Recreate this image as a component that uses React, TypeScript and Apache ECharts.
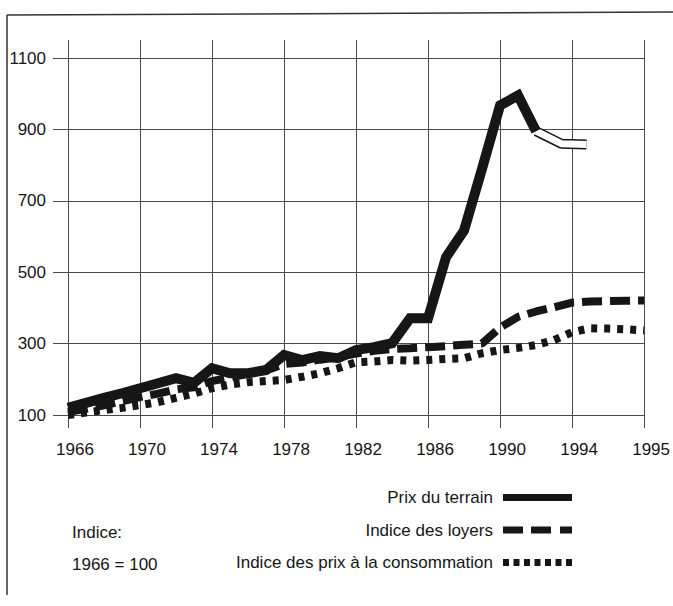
import React, { useEffect, useRef } from "react";
import * as echarts from "echarts";

// x positions (the last slot, 1998, is labelled "1995" on the original chart)
const years = [
  1966, 1967, 1968, 1969, 1970, 1971, 1972, 1973, 1974, 1975, 1976, 1977, 1978,
  1979, 1980, 1981, 1982, 1983, 1984, 1985, 1986, 1987, 1988, 1989, 1990, 1991,
  1992, 1993, 1994, 1995, 1996, 1997, 1998,
];
const xTickLabels: Record<number, string> = { 1998: "1995" };

const prixTerrain = [
  120, 134, 148, 161, 175, 189, 203, 190, 231, 217, 217, 226, 268, 254, 265,
  259, 282, 290, 301, 371, 371, 542, 617, 790, 967, 995, 895,
];
const prixTerrainEstX = [1992, 1993.4, 1994.8];
const prixTerrainEst = [895, 860, 858];

const indiceLoyers = [
  108, 117, 127, 138, 150, 160, 172, 178, 195, 205, 215, 225, 243, 247, 255,
  262, 272, 280, 285, 287, 290, 293, 297, 300, 345, 375, 390, 402, 415, 418,
  419, 420, 421,
];
const indiceConso = [
  100, 107, 114, 120, 128, 136, 148, 160, 175, 185, 192, 195, 198, 207, 217,
  231, 248, 250, 254, 252, 254, 257, 259, 273, 282, 288, 296, 310, 332, 343,
  342, 340, 337,
];

const yMin = 100;
const yMax = 1100;
const yStep = 200;

const FONT = "'Liberation Sans', Arial, sans-serif";
const INK = "#161616";
const GRID = "#4a4a4a";

const pair = (xs: number[], ys: number[]) => ys.map((v, i) => [xs[i], v]);

export default function App() {
  const ref = useRef<HTMLDivElement>(null);
  useEffect(() => {
    if (!ref.current) return;
    const chart = echarts.init(ref.current, null, { renderer: "svg" });
    chart.setOption({
      animation: false,
      backgroundColor: "#ffffff",
      grid: { left: 68, right: 26, top: 58, bottom: 191 },
      xAxis: [
        {
          type: "value",
          min: 1966,
          max: 1998,
          interval: 4,
          position: "bottom",
          axisLine: { show: false },
          axisTick: { show: true, length: 13, lineStyle: { color: GRID } },
          axisLabel: {
            fontSize: 17,
            fontFamily: FONT,
            color: INK,
            margin: 26,
            padding: [0, 0, 0, 14],
            formatter: (v: number) => xTickLabels[v] ?? String(v),
          },
          splitLine: { show: true, lineStyle: { color: GRID, width: 1 } },
        },
        {
          type: "value",
          min: 1966,
          max: 1998,
          interval: 4,
          position: "top",
          axisLine: { show: false },
          axisTick: { show: true, length: 18, lineStyle: { color: GRID } },
          axisLabel: { show: false },
          splitLine: { show: false },
        },
      ],
      yAxis: {
        type: "value",
        min: yMin,
        max: yMax,
        interval: yStep,
        axisLine: { show: false },
        axisTick: { show: true, length: 15, lineStyle: { color: GRID } },
        axisLabel: {
          fontSize: 17,
          fontFamily: FONT,
          color: INK,
          margin: 22,
          formatter: (v: number) => String(v),
        },
        splitLine: { show: true, lineStyle: { color: GRID, width: 1 } },
      },
      legend: {
        orient: "vertical",
        right: 101,
        top: 489,
        padding: 0,
        align: "right",
        itemWidth: 69,
        itemHeight: 7,
        itemGap: 15.5,
        textStyle: { fontSize: 17, fontFamily: FONT, color: INK, padding: [0, 5, 0, 0] },
        data: [
          { name: "Prix du terrain", icon: "path://M0,0H69V7H0Z" },
          {
            name: "Indice des loyers",
            icon: "path://M0,0H20V7H0Z M28,0H48V7H28Z M57,0H69V7H57Z",
          },
          {
            name: "Indice des prix à la consommation",
            icon:
              "path://M0,0H6V7H0Z M10.5,0H16.5V7H10.5Z M21,0H27V7H21Z M31.5,0H37.5V7H31.5Z M42,0H48V7H42Z M52.5,0H58.5V7H52.5Z M63,0H69V7H63Z",
          },
        ],
      },
      graphic: [
        {
          type: "line",
          shape: { x1: 7, y1: 15, x2: 673, y2: 12 },
          style: { stroke: "#333", lineWidth: 1.5 },
        },
        {
          type: "line",
          shape: { x1: 7, y1: 15, x2: 7, y2: 595 },
          style: { stroke: "#333", lineWidth: 1.5 },
        },
        {
          type: "text",
          left: 72,
          top: 524,
          style: { text: "Indice:", fontSize: 17, fontFamily: FONT, fill: INK },
        },
        {
          type: "text",
          left: 72,
          top: 556,
          style: { text: "1966 = 100", fontSize: 17, fontFamily: FONT, fill: INK },
        },
      ],
      series: [
        {
          name: "Indice des prix à la consommation",
          type: "line",
          symbol: "none",
          color: INK,
          data: pair(years, indiceConso),
          lineStyle: { color: INK, width: 8, type: [6, 7] },
          z: 3,
        },
        {
          name: "Indice des loyers",
          type: "line",
          symbol: "none",
          color: INK,
          data: pair(years, indiceLoyers),
          lineStyle: { color: INK, width: 8, type: [20, 8] },
          z: 4,
        },
        {
          name: "Prix du terrain (est.)",
          type: "line",
          symbol: "none",
          color: INK,
          data: pair(prixTerrainEstX, prixTerrainEst),
          lineStyle: { color: INK, width: 10 },
          z: 5,
        },
        {
          name: "Prix du terrain (est.) fond",
          type: "line",
          symbol: "none",
          color: "#ffffff",
          data: pair(prixTerrainEstX, prixTerrainEst),
          lineStyle: { color: "#ffffff", width: 7 },
          z: 6,
        },
        {
          name: "Prix du terrain",
          type: "line",
          symbol: "none",
          color: INK,
          data: pair(years, prixTerrain),
          lineStyle: { color: INK, width: 10, join: "miter" },
          z: 7,
        },
      ],
    });
    return () => chart.dispose();
  }, []);
  return (
    <div
      ref={ref}
      style={{ position: "absolute", left: 0, top: 0, width: 673, height: 606 }}
    />
  );
}
